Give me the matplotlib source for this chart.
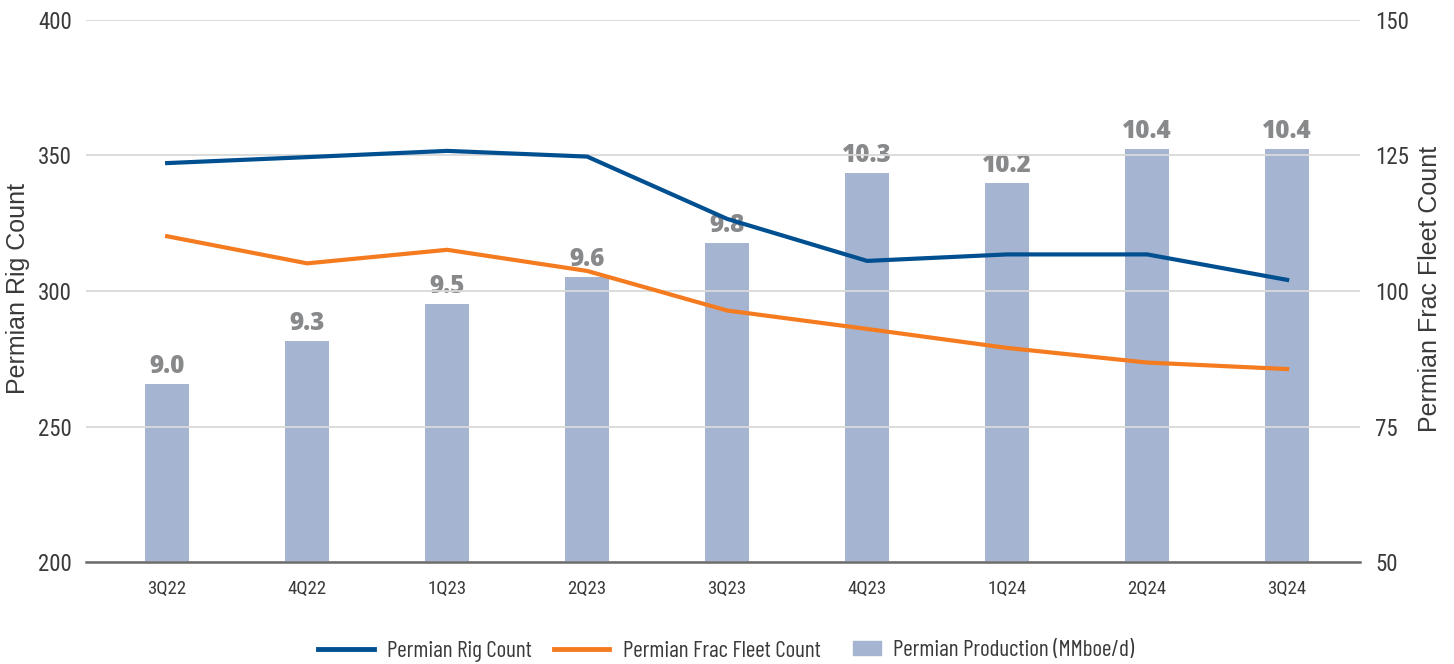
import matplotlib
matplotlib.use("Agg")
import matplotlib.pyplot as plt
from matplotlib.patches import Patch
from matplotlib.lines import Line2D

quarters = ["3Q22", "4Q22", "1Q23", "2Q23", "3Q23", "4Q23", "1Q24", "2Q24", "3Q24"]
rig_count = [347.2, 349.4, 351.7, 349.6, 326.6, 311.1, 313.5, 313.5, 304.1]
frac_fleet = [110.1, 105.1, 107.6, 103.7, 96.4, 93.0, 89.5, 86.8, 85.6]
production = [9.00, 9.26, 9.48, 9.64, 9.84, 10.26, 10.20, 10.40, 10.40]

BLUE = "#005091"
ORANGE = "#f47b20"
BAR = "#a5b4d0"
GRID = "#d9d9d9"
TXT = "#3a3a3a"
cond = ["Roboto Condensed", "IBM Plex Sans Condensed", "DejaVu Sans"]
narrow = ["Barlow Condensed", "Roboto Condensed", "DejaVu Sans"]
lab_font = ["Open Sans", "DejaVu Sans"]
title_font = ["Liberation Sans", "DejaVu Sans"]

fig = plt.figure(figsize=(14.54, 6.64), dpi=100)
ax = fig.add_axes([0.0591, 0.1536, 0.8762, 0.8163])
axb = ax.twinx()
axr = ax.twinx()

x = list(range(len(quarters)))

# bars sit on their own hidden scale
axb.bar(x, production, width=0.31, color=BAR, zorder=1)
axb.set_ylim(7.94, 11.17)
axb.axis("off")
for xi, v in zip(x, production):
    axb.annotate(f"{v:.1f}", (xi, v), xytext=(0, 3.5), textcoords="offset points",
                 ha="center", va="bottom", fontsize=17.5, fontweight="heavy",
                 color="#88898b", family=lab_font)

ax.plot(x, rig_count, color=BLUE, lw=3, zorder=5)
axr.plot(x, frac_fleet, color=ORANGE, lw=3, zorder=5)

ax.set_zorder(axb.get_zorder() + 1)
axr.set_zorder(ax.get_zorder() + 1)
ax.patch.set_visible(False)
axr.patch.set_visible(False)

ax.set_ylim(200, 400)
ax.set_yticks([200, 250, 300, 350, 400])
axr.set_ylim(50, 150)
axr.set_yticks([50, 75, 100, 125, 150])
ax.set_xlim(-0.58, 8.52)
ax.set_xticks(x)
ax.set_xticklabels(quarters)

ax.grid(axis="y", color=GRID, lw=1.3)
ax.set_axisbelow(True)
for a in (ax, axr):
    for s in a.spines.values():
        s.set_visible(False)
ax.spines["bottom"].set_visible(True)
ax.spines["bottom"].set_color("#6b6b6b")
ax.spines["bottom"].set_linewidth(1.8)

ax.tick_params(axis="y", length=0, pad=10, labelsize=16.5, labelcolor=TXT)
ax.tick_params(axis="x", length=0, pad=13, labelsize=13.5, labelcolor=TXT)
axr.tick_params(axis="y", length=0, pad=11, labelsize=16.5, labelcolor=TXT)
for lab in ax.get_yticklabels() + ax.get_xticklabels() + axr.get_yticklabels():
    lab.set_family(cond)

fig.text(18 / 1454, 1 - 288 / 664, "Permian Rig Count", rotation=90, ha="center", va="center",
         fontsize=18, color=TXT, family=title_font)
fig.text(1430 / 1454, 1 - 289 / 664, "Permian Frac Fleet Count", rotation=90, ha="center",
         va="center", fontsize=18, color=TXT, family=title_font)

# legend in two parts so the square swatch can stay narrow
leg_y = 1 - 651 / 664
leg1 = fig.legend([Line2D([0], [0], color=BLUE, lw=3.5), Line2D([0], [0], color=ORANGE, lw=3.5)],
                  ["Permian Rig Count", "Permian Frac Fleet Count"],
                  loc="center left", bbox_to_anchor=(318 / 1454, leg_y), ncol=2, frameon=False,
                  borderpad=0, borderaxespad=0, handlelength=2.4, handletextpad=0.57,
                  columnspacing=0.95, prop={"family": narrow, "size": 16.7})
leg2 = fig.legend([Patch(color=BAR)], ["Permian Production (MMboe/d)"],
                  loc="center left", bbox_to_anchor=(853 / 1454, leg_y), frameon=False,
                  borderpad=0, borderaxespad=0, handlelength=1.2, handleheight=0.57,
                  handletextpad=0.53, prop={"family": narrow, "size": 16.7})
for lg in (leg1, leg2):
    for t in lg.get_texts():
        t.set_color(TXT)

fig.savefig("out.png", dpi=100)
